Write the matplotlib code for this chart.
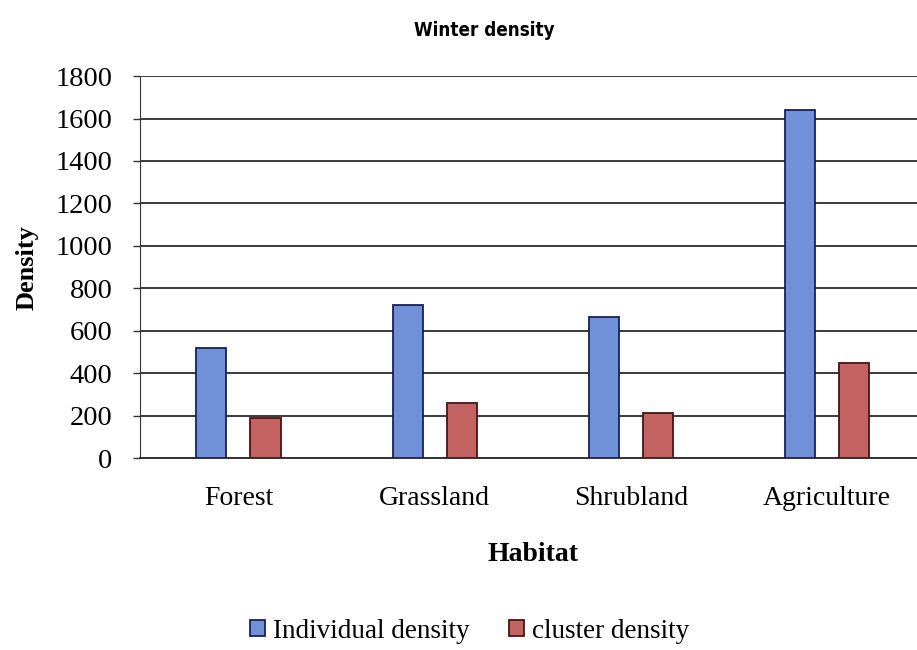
import numpy as np
import matplotlib
matplotlib.use("Agg")
import matplotlib.pyplot as plt

habitats = ['Forest', 'Grassland', 'Shrubland', 'Agriculture']
individual = [520, 720, 665, 1640]
cluster = [190, 260, 215, 450]
yticks = [0, 200, 400, 600, 800, 1000, 1200, 1400, 1600, 1800]

serif = ['Liberation Serif', 'DejaVu Serif']
plt.rcParams['font.family'] = serif

fig = plt.figure(figsize=(9.17, 6.5), dpi=100)
ax = fig.add_axes([0.153, 0.295, 0.856, 0.588])

x = np.arange(len(habitats))
w = 0.153
off = 0.138
ax.bar(x - off, individual, w, color='#7090d8', edgecolor='#1a1f5c', lw=1.3,
       label='Individual density', zorder=3)
ax.bar(x + off, cluster, w, color='#c46462', edgecolor='#4a1414', lw=1.3,
       label='cluster density', zorder=3)

ax.set_xlim(-0.5, len(habitats) - 0.5)
ax.set_ylim(0, 1800)
ax.set_yticks(yticks)
ax.set_yticklabels([str(v) for v in yticks], fontsize=20.5)
ax.set_xticks(x)
ax.set_xticklabels(habitats, fontsize=20)
ax.tick_params(axis='x', length=0, pad=20)
ax.tick_params(axis='y', length=5, width=1, pad=15, color='#333333')
ax.grid(axis='y', color='#3a3a3a', lw=1.4, zorder=0)

for s in ['top', 'right']:
    ax.spines[s].set_visible(False)
ax.spines['left'].set_color('#333333')
ax.spines['bottom'].set_color('#333333')
ax.spines['bottom'].set_linewidth(1.4)

ax.set_ylabel('Density', fontsize=19, fontweight='bold', labelpad=12)
ax.set_xlabel('Habitat', fontsize=20, fontweight='bold', labelpad=22)

fig.text(0.528, 0.953, 'Winter density', ha='center', va='center', fontsize=13.5,
         fontweight='bold', fontstretch='condensed',
         family=['DejaVu Sans', 'Liberation Sans'])

fig.legend(loc='center', bbox_to_anchor=(0.512, 0.029), ncol=2, frameon=False,
           fontsize=19.5, handlelength=0.55, handleheight=0.55, handletextpad=0.3,
           columnspacing=1.45)

fig.savefig('out.png', dpi=100)
